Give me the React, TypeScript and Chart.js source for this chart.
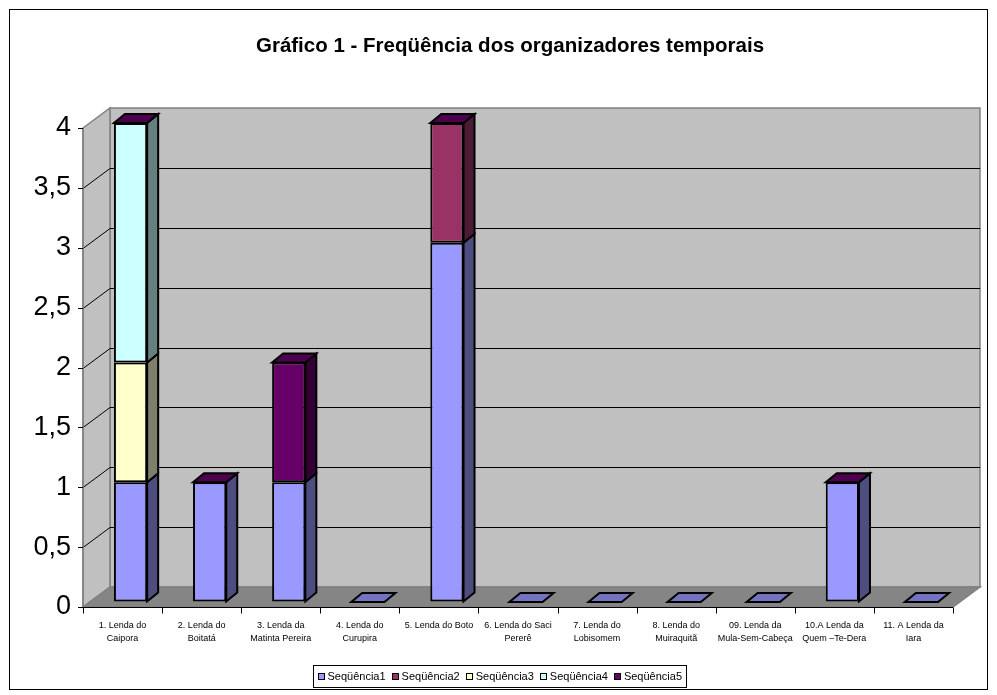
import React, { useEffect, useRef } from "react";
import { Chart, registerables } from "chart.js";
Chart.register(...registerables);

const categories: string[][] = [
  ["1. Lenda do", "Caipora"],
  ["2. Lenda do", "Boitatá"],
  ["3. Lenda da", "Matinta Pereira"],
  ["4. Lenda do", "Curupira"],
  ["5. Lenda do Boto"],
  ["6. Lenda do Saci", "Pererê"],
  ["7. Lenda do", "Lobisomem"],
  ["8. Lenda do", "Muiraquitã"],
  ["09. Lenda da", "Mula-Sem-Cabeça"],
  ["10.A Lenda da", "Quem –Te-Dera"],
  ["11. A Lenda da", "Iara"],
];

const seq1 = [1, 1, 1, 0, 3, 0, 0, 0, 0, 1, 0];
const seq2 = [0, 0, 0, 0, 1, 0, 0, 0, 0, 0, 0];
const seq3 = [1, 0, 0, 0, 0, 0, 0, 0, 0, 0, 0];
const seq4 = [2, 0, 0, 0, 0, 0, 0, 0, 0, 0, 0];
const seq5 = [0, 0, 1, 0, 0, 0, 0, 0, 0, 0, 0];

const seriesNames = ["Seqüência1", "Seqüência2", "Seqüência3", "Seqüência4", "Seqüência5"];
const seriesValues = [seq1, seq2, seq3, seq4, seq5];
const frontColors = ["#9999FF", "#993366", "#FFFFCC", "#CCFFFF", "#660066"];
const sideColors = ["#4D4D80", "#4D1A33", "#80806A", "#668080", "#330033"];
const topColors = ["#7373BF", "#732650", "#BFBF99", "#99BFBF", "#4D004D"];

const yTickLabels = ["0", "0,5", "1", "1,5", "2", "2,5", "3", "3,5", "4"];

const titleText = "Gráfico 1 - Freqüência dos organizadores temporais";
const FONT = "'Liberation Sans', Arial, sans-serif";

// 3D geometry (pixels)
const WALL_DX = 27;
const WALL_DY = -20;
const BAR_DX = 11;
const BAR_DY = -9;
const SHIFT_X = 8;
const SHIFT_Y = -5;

const threeD = {
  id: "threeD",
  beforeDraw(chart: any) {
    const { ctx, chartArea } = chart;
    const xs = chart.scales.x;
    const ys = chart.scales.y;
    const L = chartArea.left, R = chartArea.right, T = chartArea.top, B = chartArea.bottom;
    ctx.save();
    ctx.fillStyle = "#FFFFFF";
    ctx.fillRect(0, 0, chart.width, chart.height);
    // outer border
    ctx.strokeStyle = "#000";
    ctx.lineWidth = 1;
    ctx.strokeRect(9.5, 9.5, 978, 680);
    // title
    ctx.fillStyle = "#000";
    ctx.font = `bold 20.5px ${FONT}`;
    ctx.textAlign = "center";
    ctx.textBaseline = "middle";
    ctx.fillText(titleText, 510, 46);

    // back wall
    ctx.fillStyle = "#C0C0C0";
    ctx.strokeStyle = "#808080";
    ctx.lineWidth = 1.5;
    ctx.beginPath();
    ctx.rect(L + WALL_DX, T + WALL_DY, R - L, B - T);
    ctx.fill();
    ctx.stroke();
    // left wall
    ctx.beginPath();
    ctx.moveTo(L, T);
    ctx.lineTo(L + WALL_DX, T + WALL_DY);
    ctx.lineTo(L + WALL_DX, B + WALL_DY);
    ctx.lineTo(L, B);
    ctx.closePath();
    ctx.fill();
    ctx.stroke();
    // floor
    ctx.fillStyle = "#858585";
    ctx.beginPath();
    ctx.moveTo(L, B);
    ctx.lineTo(L + WALL_DX, B + WALL_DY);
    ctx.lineTo(R + WALL_DX, B + WALL_DY);
    ctx.lineTo(R, B);
    ctx.closePath();
    ctx.fill();
    ctx.stroke();

    // gridlines
    ctx.strokeStyle = "#000";
    ctx.lineWidth = 1;
    ys.ticks.forEach((t: any) => {
      if (t.value <= ys.min || t.value >= ys.max) return;
      const y = Math.round(ys.getPixelForValue(t.value)) + 0.5;
      ctx.beginPath();
      ctx.moveTo(L, y);
      ctx.lineTo(L + WALL_DX, y + WALL_DY);
      ctx.lineTo(R + WALL_DX, y + WALL_DY);
      ctx.stroke();
    });
    // y axis line (wall front edge) + ticks
    ctx.strokeStyle = "#808080";
    ctx.lineWidth = 1.5;
    ctx.beginPath();
    ctx.moveTo(L, T);
    ctx.lineTo(L, B);
    ctx.stroke();
    ctx.strokeStyle = "#000";
    ctx.lineWidth = 1;
    ys.ticks.forEach((t: any) => {
      const y = Math.round(ys.getPixelForValue(t.value)) + 0.5;
      ctx.beginPath();
      ctx.moveTo(L - 5, y);
      ctx.lineTo(L, y);
      ctx.stroke();
    });
    // x axis line + ticks
    const yb = Math.round(B) + 0.5;
    ctx.beginPath();
    ctx.moveTo(L, yb);
    ctx.lineTo(R, yb);
    ctx.stroke();
    const n = xs.ticks.length;
    const cw = (R - L) / n;
    for (let i = 0; i <= n; i++) {
      const x = Math.round(L + cw * i) + 0.5;
      ctx.beginPath();
      ctx.moveTo(x, yb);
      ctx.lineTo(x, yb + 6);
      ctx.stroke();
    }
    ctx.restore();
  },
  beforeDatasetsDraw(chart: any) {
    chart.ctx.save();
    chart.ctx.translate(SHIFT_X, SHIFT_Y);
  },
  afterDatasetsDraw(chart: any) {
    const { ctx } = chart;
    const ys = chart.scales.y;
    const nCat = chart.data.labels.length;
    const metas = chart.data.datasets.map((_: any, i: number) => chart.getDatasetMeta(i));
    ctx.lineWidth = 2;
    ctx.strokeStyle = "#000";
    ctx.lineJoin = "miter";
    // side faces
    metas.forEach((meta: any, di: number) => {
      meta.data.forEach((el: any, ci: number) => {
        const v = chart.data.datasets[di].data[ci];
        if (!v) return;
        const x1 = el.x + el.width / 2;
        const yt = el.y, yb = el.base;
        ctx.fillStyle = sideColors[di];
        ctx.beginPath();
        ctx.moveTo(x1, yt);
        ctx.lineTo(x1 + BAR_DX, yt + BAR_DY);
        ctx.lineTo(x1 + BAR_DX, yb + BAR_DY);
        ctx.lineTo(x1, yb);
        ctx.closePath();
        ctx.fill();
        ctx.stroke();
      });
    });
    // top caps
    for (let ci = 0; ci < nCat; ci++) {
      let total = 0;
      chart.data.datasets.forEach((d: any) => (total += d.data[ci]));
      const di = total > 0 ? metas.length - 1 : 0;
      const ref = metas[0].data[ci];
      const x0 = ref.x - ref.width / 2;
      const x1 = ref.x + ref.width / 2;
      const yt = ys.getPixelForValue(total);
      ctx.fillStyle = topColors[di];
      ctx.beginPath();
      ctx.moveTo(x0, yt);
      ctx.lineTo(x1, yt);
      ctx.lineTo(x1 + BAR_DX, yt + BAR_DY);
      ctx.lineTo(x0 + BAR_DX, yt + BAR_DY);
      ctx.closePath();
      ctx.fill();
      ctx.stroke();
    }
    ctx.restore();
  },
  afterDraw(chart: any) {
    const { ctx } = chart;
    ctx.save();
    ctx.font = `11px ${FONT}`;
    const items = chart.data.datasets.map((d: any) => ({ label: d.label, color: d.backgroundColor }));
    const sq = 7, gap = 3, spacing = 6, pad = 4;
    const widths = items.map((it: any) => sq + gap + ctx.measureText(it.label).width);
    const total = widths.reduce((a: number, b: number) => a + b, 0) + spacing * (items.length - 1);
    const boxW = total + pad * 2;
    const boxL = Math.round(499 - boxW / 2) + 0.5;
    const boxT = 665.5, boxH = 22;
    ctx.strokeStyle = "#000";
    ctx.lineWidth = 1;
    ctx.strokeRect(boxL, boxT, Math.round(boxW), boxH);
    let x = boxL + pad;
    const cy = boxT + boxH / 2;
    items.forEach((it: any, i: number) => {
      ctx.fillStyle = it.color;
      ctx.fillRect(Math.round(x), Math.round(cy - sq / 2), sq, sq);
      ctx.strokeRect(Math.round(x) + 0.5, Math.round(cy - sq / 2) + 0.5, sq - 1, sq - 1);
      ctx.fillStyle = "#000";
      ctx.textAlign = "left";
      ctx.textBaseline = "middle";
      ctx.fillText(it.label, x + sq + gap, cy + 0.5);
      x += widths[i] + spacing;
    });
    ctx.restore();
  },
};

export default function App() {
  const ref = useRef<HTMLCanvasElement | null>(null);
  useEffect(() => {
    if (!ref.current) return;
    const chart = new Chart(ref.current, {
      type: "bar",
      data: {
        labels: categories,
        datasets: seriesValues.map((vals, i) => ({
          label: seriesNames[i],
          data: vals,
          backgroundColor: frontColors[i],
          borderColor: "#000",
          borderWidth: (c: any) => (c.raw === 0 ? 0 : 2),
          borderSkipped: false,
          categoryPercentage: 1,
          barPercentage: 0.42,
          clip: false as any,
        })),
      },
      options: {
        responsive: false,
        animation: false,
        devicePixelRatio: 1,
        layout: { padding: { top: 128, left: 0, right: 44, bottom: 0 } },
        plugins: {
          legend: { display: false },
          title: { display: false },
          tooltip: { enabled: false },
        },
        scales: {
          x: {
            stacked: true,
            offset: true,
            border: { display: false },
            grid: { display: true, color: "transparent", drawTicks: true, tickLength: 5 },
            ticks: {
              autoSkip: false,
              maxRotation: 0,
              minRotation: 0,
              padding: 7,
              color: "#000",
              font: { family: FONT, size: 9, lineHeight: 1.45 },
            },
            afterFit: (s: any) => {
              s.height = 88;
            },
          },
          y: {
            stacked: true,
            min: 0,
            max: 4,
            border: { display: false },
            grid: { display: true, color: "transparent", drawTicks: true, tickLength: 5 },
            ticks: {
              stepSize: 0.5,
              padding: 7,
              color: "#000",
              font: { family: FONT, size: 27 },
              callback: (_v: any, idx: number) => yTickLabels[idx],
            },
            afterFit: (s: any) => {
              s.width = 83;
            },
          },
        },
      },
      plugins: [threeD],
    });
    return () => chart.destroy();
  }, []);
  return (
    <div style={{ position: "fixed", left: 0, top: 0, width: 997, height: 695, background: "#fff" }}>
      <canvas ref={ref} width={997} height={695} style={{ width: 997, height: 695, display: "block" }} />
    </div>
  );
}
